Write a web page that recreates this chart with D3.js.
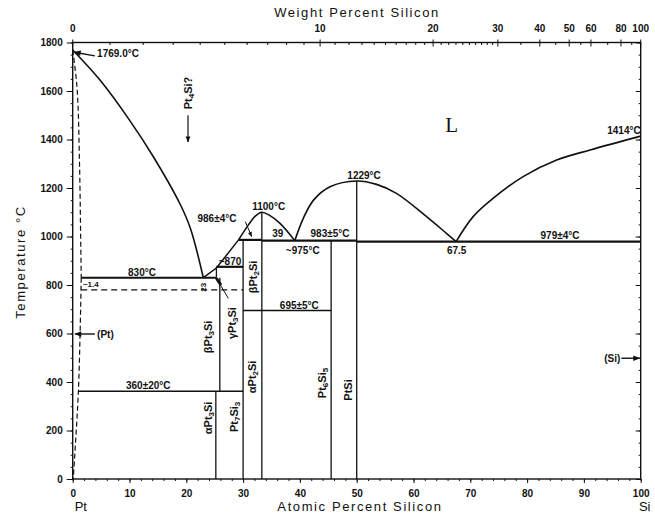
<!DOCTYPE html>
<html>
<head>
<meta charset="utf-8">
<script src="https://cdn.jsdelivr.net/npm/d3@7"></script>
<style>
  html, body { margin: 0; padding: 0; background: #fff; }
  svg { display: block; }
  text { fill: #111; }
</style>
</head>
<body>
<svg id="chart" width="655" height="516"></svg>
<script>
// Pt–Si phase diagram: composition in atomic % Si, temperature in °C.

const atomicTicks = [0, 10, 20, 30, 40, 50, 60, 70, 80, 90, 100];
const tempTicks = [0, 200, 400, 600, 800, 1000, 1200, 1400, 1600, 1800];
const weightTicks = [0, 10, 20, 30, 40, 50, 60, 80, 100];
const weightMinor = [1,2,3,4,5,6,7,8,9,11,12,13,14,15,16,17,18,19,21,22,23,24,25,26,27,28,29,35,45,55,70,90];

// Liquidus branches [at% Si, °C]
const liquidusPt = [[0,1769],[4.8,1645],[10,1480],[14.2,1329],[18.9,1134],[20.7,1035],[23,830]];
const liquidusPt3Si = [[23,830],[25.3,870],[29.2,986]];
const liquidusPt2Si = [[29.2,986],[31,1050],[32.2,1085],[33.3,1100],[34.6,1088],[36.5,1054],[39.1,983]];
const liquidusPtSi = [[39.1,983],[40.6,1075],[42.4,1150],[45.3,1205],[50,1229],[53.5,1215],[57,1178],[62.3,1082],[65.8,1013],[67.5,979]];
const liquidusSi = [[67.5,979],[70.5,1082],[74,1157],[79.3,1247],[85.2,1315],[91.1,1357],[100,1414]];

// Terminal (Pt) solid solution boundaries (dashed)
const solidusPt = [[0,1769],[0.8,1600],[1.2,1300],[1.4,1000],[1.5,830]];
const solvusPt = [[1.5,830],[1.3,600],[1.0,362],[0.5,150],[0.1,0]];

// Invariant horizontals: [°C, from at%, to at%]
const invariants = [[830,1.5,25.3],[875,25.3,30],[986,29.2,33.3],[983,33.3,50],[979,50,100]];
const transitions = [[695,30,45.5],[362,1.0,30]];
const dashedTransition = [[780,1.5,30]];

// Compound / phase boundary verticals: [at%, from °C, to °C]
const verticals = [[25.2,0,362],[25.9,362,830],[25.3,830,875],[30,0,986],[33.3,0,1100],[45.5,0,983],[50,0,1229]];

// Horizontal text labels: [text, at%, °C, anchor]
const notes = [
  ["1769.0°C", 4.3, 1742, "start"],
  ["830°C", 12.2, 837, "middle"],
  ["~1.4", 1.8, 790, "start"],
  ["~870", 27.7, 882, "middle"],
  ["986±4°C", 25.4, 1060, "middle"],
  ["1100°C", 34.5, 1108, "middle"],
  ["1229°C", 51.3, 1237, "middle"],
  ["39", 36.1, 997, "middle"],
  ["983±5°C", 45.3, 997, "middle"],
  ["~975°C", 40.5, 928, "middle"],
  ["67.5", 67.6, 928, "middle"],
  ["979±4°C", 85.8, 990, "middle"],
  ["1414°C", 100, 1423, "end"],
  ["695±5°C", 39.9, 701, "middle"],
  ["360±20°C", 13.3, 371, "middle"],
  ["(Pt)", 4.3, 582, "start"],
  ["(Si)", 96.4, 482, "end"]
];

// Rotated phase names: [parts ([text, sub?]), at%, °C]
const phases = [
  [[["β",0],["Pt",0],["3",1],["Si",0]], 23.9, 586],
  [[["γ",0],["Pt",0],["3",1],["Si",0]], 28.0, 643],
  [[["β",0],["Pt",0],["2",1],["Si",0]], 31.7, 833],
  [[["α",0],["Pt",0],["2",1],["Si",0]], 31.6, 421],
  [[["Pt",0],["6",1],["Si",0],["5",1]], 43.9, 396],
  [[["PtSi",0]], 48.5, 367],
  [[["α",0],["Pt",0],["3",1],["Si",0]], 23.9, 252],
  [[["Pt",0],["7",1],["Si",0],["3",1]], 28.4, 256],
  [[["Pt",0],["4",1],["Si?",0]], 20.3, 1592]
];

const svg = d3.select("#chart");
const x = d3.scaleLinear().domain([0, 100]).range([72.7, 640.7]);
const y = d3.scaleLinear().domain([0, 1800]).range([479, 42.5]);
const wtToAt = w => w >= 100 ? 100 : 100 * (w / 28.0855) / (w / 28.0855 + (100 - w) / 195.08);

const FONT = "'Liberation Sans', Arial, sans-serif";

svg.append("defs").append("marker")
  .attr("id", "arrow").attr("viewBox", "0 0 10 10")
  .attr("refX", 9).attr("refY", 5)
  .attr("markerWidth", 7).attr("markerHeight", 5)
  .attr("orient", "auto")
  .append("path").attr("d", "M0,1 L10,5 L0,9 Z").attr("fill", "#111");

// Frame
const frame = svg.append("g").attr("stroke", "#111").attr("fill", "none");
frame.append("rect")
  .attr("x", x(0)).attr("y", y(1800))
  .attr("width", x(100) - x(0)).attr("height", y(0) - y(1800))
  .attr("stroke-width", 1.4);

// Bottom axis
const axisB = svg.append("g").attr("transform", `translate(0,${y(0)})`)
  .call(d3.axisBottom(x).tickValues(atomicTicks).tickSize(4).tickFormat(d3.format("d")));
axisB.append("g").call(d3.axisBottom(x).tickValues(d3.range(0, 101, 2)).tickSize(2).tickFormat(""));
// Left axis
const axisL = svg.append("g").attr("transform", `translate(${x(0)},0)`)
  .call(d3.axisLeft(y).tickValues(tempTicks).tickSize(6).tickFormat(d3.format("d")));
axisL.append("g").call(d3.axisLeft(y).tickValues(d3.range(0, 1801, 50)).tickSize(2).tickFormat(""));
// Right axis (inward ticks)
const axisR = svg.append("g").attr("transform", `translate(${x(100)},0)`)
  .call(d3.axisLeft(y).tickValues(tempTicks).tickSize(5).tickFormat(""));
axisR.append("g").call(d3.axisLeft(y).tickValues(d3.range(0, 1801, 50)).tickSize(2).tickFormat(""));
// Top axis in weight percent
const axisT = svg.append("g").attr("transform", `translate(0,${y(1800)})`);
axisT.selectAll("line.maj").data(weightTicks).join("line").attr("class", "maj")
  .attr("x1", d => x(wtToAt(d))).attr("x2", d => x(wtToAt(d)))
  .attr("y1", -3).attr("y2", 4).attr("stroke", "#111");
axisT.selectAll("line.min").data(weightMinor).join("line").attr("class", "min")
  .attr("x1", d => x(wtToAt(d))).attr("x2", d => x(wtToAt(d)))
  .attr("y1", 0).attr("y2", 2.5).attr("stroke", "#111");
axisT.selectAll("text").data(weightTicks).join("text")
  .attr("x", d => x(wtToAt(d))).attr("y", -11)
  .attr("text-anchor", "middle")
  .attr("font-family", FONT).attr("font-size", 10).attr("font-weight", "bold")
  .text(d => d);

svg.selectAll(".tick text").attr("font-family", FONT).attr("font-size", 10).attr("font-weight", "bold").attr("fill", "#111");
axisB.selectAll(".tick text").attr("dy", "1.05em");
axisL.selectAll(".tick text").attr("dx", "-1px");
svg.selectAll(".domain").remove();
svg.selectAll(".tick line").attr("stroke", "#111");

// Axis titles
svg.append("text").attr("x", 357).attr("y", 17).attr("text-anchor", "middle")
  .attr("font-family", FONT).attr("font-size", 13).attr("letter-spacing", 1.6)
  .text("Weight Percent Silicon");
svg.append("text").attr("x", 360).attr("y", 511).attr("text-anchor", "middle")
  .attr("font-family", FONT).attr("font-size", 13).attr("letter-spacing", 1.6)
  .text("Atomic Percent Silicon");
svg.append("text").attr("transform", "translate(25,262) rotate(-90)").attr("text-anchor", "middle")
  .attr("font-family", FONT).attr("font-size", 13).attr("letter-spacing", 1.6)
  .text("Temperature °C");
svg.append("text").attr("x", x(0) + 2).attr("y", 511).attr("text-anchor", "start")
  .attr("font-family", FONT).attr("font-size", 13).text("Pt");
svg.append("text").attr("x", x(100) + 4).attr("y", 511).attr("text-anchor", "middle")
  .attr("font-family", FONT).attr("font-size", 13).text("Si");

// Phase boundaries
const line = d3.line().x(d => x(d[0])).y(d => y(d[1])).curve(d3.curveCatmullRom.alpha(0.5));
const straight = d3.line().x(d => x(d[0])).y(d => y(d[1]));
const plot = svg.append("g").attr("fill", "none").attr("stroke", "#111");

[liquidusPt, liquidusPt2Si, liquidusPtSi, liquidusSi].forEach(seg =>
  plot.append("path").attr("d", line(seg)).attr("stroke-width", 1.6));
plot.append("path").attr("d", straight(liquidusPt3Si)).attr("stroke-width", 1.5);

const lineY = d3.line().x(d => x(d[0])).y(d => y(d[1])).curve(d3.curveMonotoneY);
[solidusPt, solvusPt].forEach(seg =>
  plot.append("path").attr("d", lineY(seg)).attr("stroke-width", 1.2).attr("stroke-dasharray", "5,3"));

plot.selectAll("line.inv").data(invariants).join("line").attr("class", "inv")
  .attr("x1", d => x(d[1])).attr("x2", d => x(d[2]))
  .attr("y1", d => y(d[0])).attr("y2", d => y(d[0])).attr("stroke-width", 2.2);
plot.selectAll("line.tr").data(transitions).join("line").attr("class", "tr")
  .attr("x1", d => x(d[1])).attr("x2", d => x(d[2]))
  .attr("y1", d => y(d[0])).attr("y2", d => y(d[0])).attr("stroke-width", 1.6);
plot.selectAll("line.dash").data(dashedTransition).join("line").attr("class", "dash")
  .attr("x1", d => x(d[1])).attr("x2", d => x(d[2]))
  .attr("y1", d => y(d[0])).attr("y2", d => y(d[0])).attr("stroke-width", 1.3)
  .attr("stroke-dasharray", "6,4");
plot.selectAll("line.vert").data(verticals).join("line").attr("class", "vert")
  .attr("x1", d => x(d[0])).attr("x2", d => x(d[0]))
  .attr("y1", d => y(d[1])).attr("y2", d => y(d[2])).attr("stroke-width", 1.3);

// Leader lines and arrows
plot.append("line").attr("x1", x(30.4)).attr("y1", y(1061)).attr("x2", x(31.5)).attr("y2", y(1000))
  .attr("stroke-width", 1).attr("marker-end", "url(#arrow)");
plot.append("line").attr("x1", x(25.3)).attr("y1", y(828)).attr("x2", x(27.4)).attr("y2", y(745))
  .attr("stroke-width", 1);
plot.append("line").attr("x1", x(25.3)).attr("y1", y(828)).attr("x2", x(26.1)).attr("y2", y(800))
  .attr("stroke-width", 3);
plot.append("line").attr("x1", x(20.3)).attr("y1", y(1500)).attr("x2", x(20.3)).attr("y2", y(1390))
  .attr("stroke-width", 1.2).attr("marker-end", "url(#arrow)");
plot.append("line").attr("x1", x(3.9)).attr("y1", y(1745)).attr("x2", x(0.3)).attr("y2", y(1760))
  .attr("stroke-width", 1.4).attr("marker-end", "url(#arrow)");
plot.append("line").attr("x1", x(3.9)).attr("y1", y(598)).attr("x2", x(0.4)).attr("y2", y(598))
  .attr("stroke-width", 1.4).attr("marker-end", "url(#arrow)");
plot.append("line").attr("x1", x(96.6)).attr("y1", y(498)).attr("x2", x(99.8)).attr("y2", y(498))
  .attr("stroke-width", 1.4).attr("marker-end", "url(#arrow)");

// Annotations
const ann = svg.append("g").attr("font-family", FONT).attr("font-size", 10).attr("font-weight", "bold");
ann.selectAll("text").data(notes).join("text")
  .attr("x", d => x(d[1])).attr("y", d => y(d[2]))
  .attr("text-anchor", d => d[3])
  .attr("font-size", d => d[0] === "~1.4" ? 8 : 10)
  .text(d => d[0]);

ann.append("text").attr("transform", `translate(${x(23)},${y(791)}) rotate(-90)`)
  .attr("text-anchor", "middle").attr("dy", "0.35em").attr("font-size", 8).text("23");

svg.append("text").attr("x", x(65.6)).attr("y", y(1431))
  .attr("font-family", "'Liberation Serif', 'DejaVu Serif', serif").attr("font-size", 21)
  .text("L");

// Rotated phase labels (reading bottom to top)
const ph = svg.append("g").attr("font-family", FONT).attr("font-size", 11).attr("font-weight", "bold");
phases.forEach(p => {
  const t = ph.append("text")
    .attr("transform", `translate(${x(p[1])},${y(p[2])}) rotate(-90)`)
    .attr("text-anchor", "middle").attr("dy", "0.35em");
  p[0].forEach(part => {
    const s = t.append("tspan").text(part[0]);
    if (part[1]) s.attr("font-size", 8).attr("baseline-shift", "-25%");
  });
});
</script>
</body>
</html>
